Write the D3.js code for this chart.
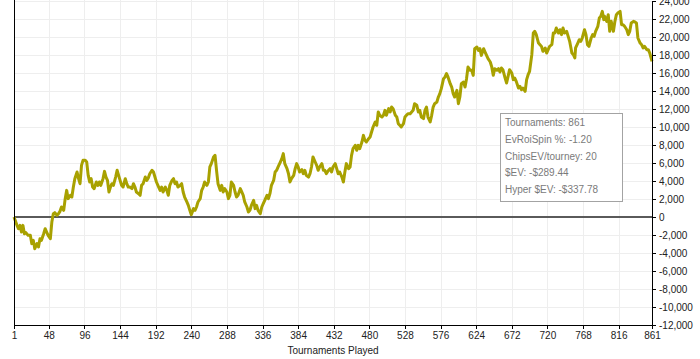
<!DOCTYPE html>
<html>
<head>
<meta charset="utf-8">
<script src="https://cdn.jsdelivr.net/npm/d3@7"></script>
<style>
  html, body { margin: 0; padding: 0; background: #fff; }
  svg { display: block; font-family: "Liberation Sans", Arial, sans-serif; }
  .grid line { stroke: #eeeeee; stroke-width: 1; shape-rendering: crispEdges; }
  .axis path, .axis line { stroke: #000; shape-rendering: crispEdges; }
  .axis text { fill: #222; font-size: 10px; }
  .legend text { fill: #7a7a7a; font-size: 10px; }
</style>
</head>
<body>
<svg id="chart" width="700" height="359"></svg>
<script>
// tournaments played (x) and cumulative chips (y)
const tournaments = [
  1, 5, 7, 9, 11, 13, 15, 17, 20, 23, 25, 27, 29, 32, 34, 36, 38, 41, 43, 45, 47, 50,
  52, 54, 56, 59, 61, 63, 65, 68, 70, 72, 74, 77, 79, 81, 83, 86, 88, 90, 92, 94, 97, 99,
  101, 103, 105, 107, 109, 112, 114, 116, 118, 121, 123, 125, 127, 129, 131, 133, 135, 138,
  140, 142, 144, 146, 148, 151, 153, 155, 157, 160, 162, 164, 166, 169, 171, 173, 175, 178,
  180, 182, 184, 187, 189, 191, 193, 196, 198, 200, 202, 205, 207, 209, 211, 214, 216,
  218, 220, 222, 225, 227, 229, 231, 234, 236, 238, 240, 243, 245, 247, 249, 252, 254, 256,
  258, 261, 263, 265, 267, 270, 272, 274, 276, 279, 281, 283, 285, 288, 290, 292, 294, 297,
  299, 301, 303, 306, 308, 310, 312, 315, 317, 319, 321, 324, 326, 328, 330, 333, 335, 337,
  339, 342, 344, 346, 348, 351, 353, 355, 357, 360, 362, 364, 366, 369, 371, 373, 375, 378,
  380, 382, 384, 386, 389, 391, 393, 395, 398, 400, 402, 404, 407, 409, 411, 413, 416, 418,
  420, 422, 425, 427, 429, 431, 434, 436, 438, 440,
  443, 445, 447, 449, 452, 454, 456, 458, 461, 463, 465, 467, 470, 472, 474, 476, 479, 481,
  483, 485, 488, 490, 492, 494, 497, 499, 501, 503, 506, 508, 510, 512, 515, 517, 519, 521,
  523, 526, 528, 530, 532, 535, 537, 539, 541, 544, 546, 548, 550, 553, 555, 557, 559, 562,
  564, 566, 568, 571, 573, 575, 577, 580, 582, 584, 586, 589, 591, 593, 595, 598, 600, 602,
  604, 607, 609, 611, 613, 616, 618, 620, 622, 625, 627, 629, 631, 634, 636, 638, 640, 643,
  645, 647, 649, 652, 654, 656,
  658, 660, 663, 665, 667, 669, 672, 674, 676, 678, 681, 683, 685, 687, 690, 692, 694, 696,
  699, 701, 703, 705, 708, 710, 712, 714, 717, 719, 721, 723, 726, 728, 730, 732, 735, 737,
  739, 741, 743, 746, 748, 750, 753, 755, 757, 758, 761, 763, 765, 767, 770, 772, 774, 776,
  779, 781, 783, 785, 788, 790, 792, 794, 796, 797, 800, 802, 804, 806, 809, 811, 813, 815,
  818, 820, 822, 824, 827, 829, 831, 833, 836, 838, 840, 842, 845, 847, 849, 851, 854, 856,
  858, 861
];
const chips = [
  0, -930, -1300, -930, -1670, -930, -1850, -1740, -2040, -2040, -2960, -2590, -3520, -2960,
  -3330, -2410, -2590, -1850, -1300, -1670, -2040, -2410,
  -560, 370, 480, 190, 370, 630, 1110, 740, 2040, 2960, 2040, 2410, 2220, 3330, 4260, 5000,
  4260, 3700, 5740, 6300, 6300, 6110,
  4630, 3890, 4260, 3330, 3150, 3890, 3520, 3890, 3520, 4260, 5070, 4440, 4070, 2780, 3330,
  3700, 3520, 4440,
  5190, 4630, 4070, 3520, 3330, 4260, 3700, 3330, 3330, 3150, 3700, 3330, 2780, 2590, 2410,
  3520, 3700, 4440,
  4070, 4330, 4810, 5190, 5000, 4440, 3890, 3330, 2960, 3330, 2780, 3330, 2960, 2410, 3520,
  4070, 4260,
  3700, 3890, 3330, 3520, 3700, 2780, 2220, 1670, 1300, 740, 260, 930, 740, 1110, 1670, 2040,
  2960, 3330,
  3890, 3520, 3890, 5560, 5930, 6670, 6850, 5190, 3700, 2960, 3520, 2780, 3150, 2780, 2040,
  2410, 3890, 3520,
  2780, 2220, 2410, 3150, 2780, 2410, 1670, 1110, 560, 740, 1300, 1850, 930, 1300, 740, 370,
  1110, 1480,
  1850, 2410, 2040, 2590, 3520, 4070, 5000, 5190, 5560, 6110, 6480, 7040, 5930, 5370, 4810,
  3890, 4260, 4630,
  5370, 5930, 5560, 5000, 5260, 4810, 5190, 4630, 4440, 4810, 5560, 6670, 6110, 5740, 5190,
  5560, 5930, 5190,
  5190, 4810, 5190, 5370, 5000, 5560, 5930, 5370, 4810, 5000,
  4440, 3890, 5000, 5930, 5370, 5560, 6850, 7590, 7960, 7410, 7960, 7590, 8330, 9070, 8520,
  8330, 8700, 8890,
  9440, 10000, 10560, 10190, 11670, 11300, 11110, 11300, 11850, 11300, 12040, 11670, 12220,
  12040, 11300, 11110, 10370, 10190,
  10000, 10370, 11110, 11300, 11480, 11480, 11670, 11850, 12590, 12410, 11670, 11850, 11110,
  10930, 11850, 12220, 11110, 10560,
  11300, 12220, 12590, 12780, 13330, 13700, 14260, 15370, 15560, 15930, 15560, 14810, 14440,
  13700, 13330, 14070, 12590, 13330,
  14810, 15000, 14440, 15370, 16670, 16300, 16300, 15740, 18700, 18890, 18520, 18700, 17960,
  18700, 18330, 17960, 17590, 17220,
  16670, 15740, 16480, 16300, 16480, 16110,
  16560, 16370, 15440, 14890, 15630, 16370, 16000, 15260, 15440, 15070, 14330, 14520, 14150,
  14330, 13960, 15260, 15810, 16190,
  18040, 20440, 20630, 20260, 19330, 19150, 18960, 18410, 18780, 18220, 18590, 18960, 19150,
  20440, 20440, 21000, 20440, 20810,
  20260, 21000, 20440, 20630, 20070, 19520, 18220, 18040, 17670, 18780, 19330, 19700, 19520,
  19890, 20810, 20260, 19150, 18960,
  19890, 20260, 20070, 20630, 21190, 22110, 22300, 22850, 21930, 22300, 21740, 22480, 20630,
  21740, 20630, 21740, 22480, 22670,
  22850, 21370, 21370, 21190, 20810, 20260, 20630, 21560, 21740, 21670, 21560, 19890, 19330,
  19150, 18780, 18960, 18590, 18590,
  18220, 17300
];
const xTicks = [1, 48, 96, 144, 192, 240, 288, 336, 384, 432, 480, 528, 576, 624, 672, 720, 768, 816, 861];
const yTicks = [-12000, -10000, -8000, -6000, -4000, -2000, 0, 2000, 4000, 6000, 8000, 10000,
  12000, 14000, 16000, 18000, 20000, 22000, 24000];
const legendLines = [
  "Tournaments: 861",
  "EvRoiSpin %: -1.20",
  "ChipsEV/tourney: 20",
  "$EV: -$289.44",
  "Hyper $EV: -$337.78"
];

const svg = d3.select("#chart");
const plotLeft = 14, plotRight = 652, plotTop = 1, plotBottom = 325;

const x = d3.scaleLinear().domain([1, 861]).range([plotLeft, plotRight]);
const y = d3.scaleLinear().domain([-12000, 24000]).range([plotBottom, plotTop]);

const loc = d3.formatLocale({ decimal: ".", thousands: ",", grouping: [3], currency: ["$", ""], minus: "-" });
const fmt = loc.format(",");

// grid
const grid = svg.append("g").attr("class", "grid");
grid.selectAll(".gx").data(xTicks.slice(1, -1)).join("line")
  .attr("x1", d => Math.round(x(d)) + 0.5).attr("x2", d => Math.round(x(d)) + 0.5)
  .attr("y1", 0).attr("y2", plotBottom);
grid.selectAll(".gy").data(yTicks.filter(d => d !== 0 && d !== -12000)).join("line")
  .attr("y1", d => Math.round(y(d)) + 0.5).attr("y2", d => Math.round(y(d)) + 0.5)
  .attr("x1", plotLeft).attr("x2", plotRight);

// zero line
svg.append("line")
  .attr("x1", plotLeft).attr("x2", plotRight)
  .attr("y1", y(0)).attr("y2", y(0))
  .attr("stroke", "#5a5a5a").attr("stroke-width", 2);

// legend box
const legend = svg.append("g").attr("class", "legend");
legend.append("rect")
  .attr("x", 500.5).attr("y", 113.5).attr("width", 122).attr("height", 88)
  .attr("fill", "#fff").attr("stroke", "#a3a3a3");
legend.selectAll("text").data(legendLines).join("text")
  .attr("x", 505)
  .attr("y", (d, i) => 126 + i * 16.8)
  .text(d => d);

// line
const line = d3.line().x((d, i) => x(tournaments[i])).y(d => y(d));
svg.append("path")
  .datum(chips)
  .attr("fill", "none")
  .attr("stroke", "#a8a100")
  .attr("stroke-width", 3)
  .attr("stroke-linejoin", "round")
  .attr("d", line);

// axes
svg.append("line").attr("class", "axis")
  .attr("x1", plotLeft + 0.5).attr("x2", plotLeft + 0.5).attr("y1", 0).attr("y2", plotBottom)
  .attr("stroke", "#000");

svg.append("g").attr("class", "axis")
  .attr("transform", `translate(0,${plotBottom})`)
  .call(d3.axisBottom(x).tickValues(xTicks).tickSize(4).tickSizeOuter(0).tickFormat(d3.format("d")));

svg.append("g").attr("class", "axis")
  .attr("transform", `translate(${plotRight},0)`)
  .call(d3.axisRight(y).tickValues(yTicks).tickSize(4).tickSizeOuter(0).tickFormat(fmt));

svg.selectAll(".axis text").attr("font-family", null);

svg.append("text")
  .attr("x", (plotLeft + plotRight) / 2).attr("y", 354)
  .attr("text-anchor", "middle")
  .attr("fill", "#222").attr("font-size", "10px")
  .text("Tournaments Played");
</script>
</body>
</html>
